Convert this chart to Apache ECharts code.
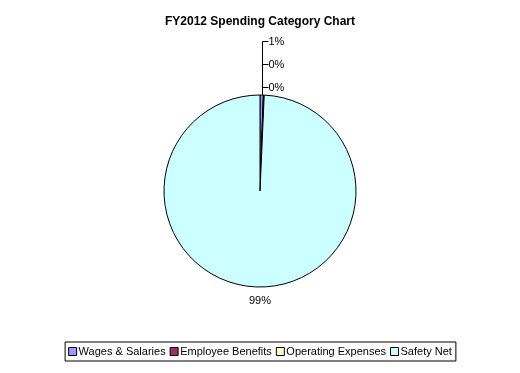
<!DOCTYPE html>
<html>
<head>
<meta charset="utf-8">
<script src="https://cdn.jsdelivr.net/npm/echarts@6/dist/echarts.min.js"></script>
<style>
html,body{margin:0;padding:0;background:#fff;}
#c{width:520px;height:373px;}
</style>
</head>
<body>
<div id="c"></div>
<script>
var categories = ['Wages & Salaries', 'Employee Benefits', 'Operating Expenses', 'Safety Net'];
var values = [0.55, 0.1, 0.05, 99.3];
var colors = ['#9999FF', '#993366', '#FFFFCC', '#CCFFFF'];
var titleText = 'FY2012 Spending Category Chart';

var CX = 260, CY = 191, R = 96;
var FONT = 'Arial, "Liberation Sans", sans-serif';
var total = values.reduce(function (a, b) { return a + b; }, 0);

var chart = echarts.init(document.getElementById('c'), null, { renderer: 'canvas' });
chart.setOption({
  backgroundColor: '#ffffff',
  animation: false,
  title: {
    text: titleText,
    left: 'center',
    top: 16,
    padding: 0,
    textStyle: { fontFamily: FONT, fontSize: 12, fontWeight: 'bold', color: '#000' }
  },
  legend: {
    data: categories,
    left: 'center',
    top: 342,
    orient: 'horizontal',
    itemWidth: 8,
    itemHeight: 8,
    itemGap: 4,
    padding: [4, 4, 4, 3],
    borderColor: '#000',
    borderWidth: 1,
    icon: 'rect',
    itemStyle: { borderColor: '#000', borderWidth: 1 },
    textStyle: { fontFamily: FONT, fontSize: 11, color: '#000', padding: [0, 0, 0, -3] }
  },
  series: [{
    type: 'pie',
    center: [CX, CY],
    radius: [0, R],
    startAngle: 90,
    clockwise: true,
    avoidLabelOverlap: false,
    minShowLabelAngle: 0,
    itemStyle: { borderColor: '#000', borderWidth: 1 },
    label: {
      show: true,
      position: 'outside',
      fontFamily: FONT,
      fontSize: 11,
      color: '#000',
      formatter: function (p) { return Math.round(p.value / total * 100) + '%'; }
    },
    labelLine: { show: true, lineStyle: { color: '#000', width: 1 } },
    labelLayout: function (p) {
      var i = p.dataIndex;
      if (i === values.length - 1) {
        return { x: CX, y: CY + R + 14, align: 'center', verticalAlign: 'middle' };
      }
      var y = 41.5 + 23 * i;
      var lx = CX + 2.5;
      return {
        x: lx + 6,
        y: y,
        align: 'left',
        verticalAlign: 'middle',
        labelLinePoints: [[lx, CY - R], [lx, y], [lx + 6, y]]
      };
    },
    data: categories.map(function (c, i) {
      var d = { name: c, value: values[i], itemStyle: { color: colors[i] } };
      if (i === values.length - 1) d.labelLine = { show: false };
      return d;
    })
  }]
});
</script>
</body>
</html>
